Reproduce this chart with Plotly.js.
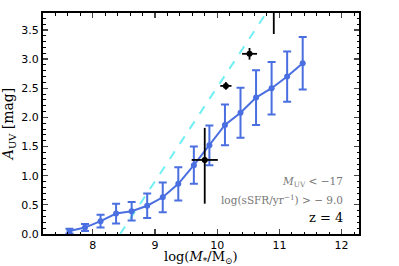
<!DOCTYPE html>
<html><head><meta charset="utf-8">
<script src="https://cdn.plot.ly/plotly-3.0.1.min.js"></script>
<style>body{margin:0;padding:0;background:#fff}#c{width:399px;height:266px}</style>
</head><body><div id="c"></div>
<script>
const massBins = [7.625,7.875,8.125,8.375,8.625,8.875,9.125,9.375,9.625,9.875,10.125,10.375,10.625,10.875,11.125,11.375];
const auvMedian = [0.05,0.11,0.22,0.35,0.39,0.485,0.63,0.86,1.18,1.52,1.87,2.08,2.34,2.50,2.70,2.93];
const auvErr = [0.04,0.06,0.11,0.17,0.16,0.21,0.255,0.285,0.32,0.34,0.35,0.43,0.47,0.45,0.43,0.45];

const obsMass = [9.80,10.14,10.52,10.91];
const obsAuv = [1.27,2.54,3.09,3.95];
const obsMassErr = [0.21,0.09,0.12,0.0];
const obsAuvErrPlus = [0.55,0.065,0.1,0.3];
const obsAuvErrMinus = [0.75,0.065,0.1,0.52];

const relMass = [8.44,11.0];
const relAuv = [0.0,4.13];

const xTicks = [8,9,10,11,12];
const yTicks = [0.0,0.5,1.0,1.5,2.0,2.5,3.0,3.5];

const traces = [
 {x: relMass, y: relAuv, mode:'lines', line:{color:'#70f0f4', width:2, dash:'dash'}, hoverinfo:'skip'},
 {x: massBins, y: auvMedian, mode:'lines+markers',
  line:{color:'#4a6fe0', width:2}, marker:{color:'#4a6fe0', size:6},
  error_y:{type:'data', array:auvErr, color:'#4a6fe0', thickness:2, width:4}},
 {x: obsMass, y: obsAuv, mode:'markers', marker:{color:'#000', size:6},
  error_x:{type:'data', array:obsMassErr, color:'#000', thickness:1.8, width:0},
  error_y:{type:'data', symmetric:false, array:obsAuvErrPlus, arrayminus:obsAuvErrMinus, color:'#000', thickness:1.8, width:0}}
];

const tickFont = {family:'DejaVu Sans', size:11, color:'#000'};
const layout = {
 width:399, height:266, showlegend:false,
 margin:{l:43, r:40, t:13, b:32},
 paper_bgcolor:'#fff', plot_bgcolor:'#fff',
 xaxis:{range:[7.2,12.28], tickvals:xTicks, ticktext:xTicks.map(String), ticks:'inside', ticklen:5, tickwidth:1.2,
   showline:true, linewidth:2, linecolor:'#000', mirror:'allticks', showgrid:false, zeroline:false,
   minor:{dtick:0.2, ticks:'inside', ticklen:2.5, tickwidth:1, tickcolor:'#000'},
   tickfont:tickFont},
 yaxis:{range:[0,3.79], tickvals:yTicks, ticktext:yTicks.map(v=>v.toFixed(1)), ticks:'inside', ticklen:5, tickwidth:1.2,
   showline:true, linewidth:2, linecolor:'#000', mirror:'allticks', showgrid:false, zeroline:false,
   minor:{dtick:0.1, ticks:'inside', ticklen:2.5, tickwidth:1, tickcolor:'#000'},
   tickfont:tickFont,
   title:{text:'<i>A</i><sub>UV</sub> [mag]', font:{family:'DejaVu Serif', size:14, color:'#000'}, standoff:4}},
 annotations:[
  {xref:'paper', yref:'paper', x:0.5, y:-0.06, xanchor:'center', yanchor:'top', showarrow:false,
   text:'log(<i>M</i><sub>*</sub>/M<sub>⊙</sub>)', font:{family:'DejaVu Serif', size:13, color:'#000'}},
  {xref:'paper', yref:'paper', x:0.955, y:0.235, xanchor:'right', yanchor:'middle', showarrow:false,
   text:'<i>M</i><sub>UV</sub> < −17', font:{family:'DejaVu Serif', size:10.5, color:'#777'}},
  {xref:'paper', yref:'paper', x:0.955, y:0.158, xanchor:'right', yanchor:'middle', showarrow:false,
   text:'log(sSFR/yr<sup>−1</sup>) > − 9.0', font:{family:'DejaVu Serif', size:10.5, color:'#777'}},
  {xref:'paper', yref:'paper', x:0.955, y:0.075, xanchor:'right', yanchor:'middle', showarrow:false,
   text:'z = 4', font:{family:'DejaVu Serif', size:13, color:'#000'}}
 ]
};
Plotly.newPlot('c', traces, layout, {staticPlot:true, displayModeBar:false});
</script></body></html>
